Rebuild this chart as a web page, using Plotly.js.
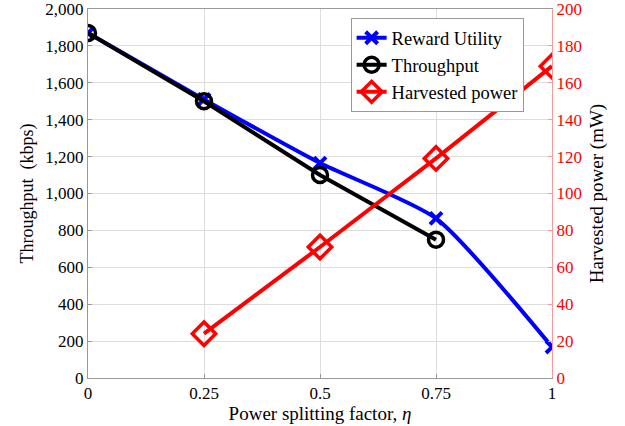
<!DOCTYPE html>
<html>
<head>
<meta charset="utf-8">
<script src="https://cdn.plot.ly/plotly-3.0.1.min.js"></script>
<style>html,body{margin:0;padding:0;background:#fff}#chart{width:625px;height:426px}</style>
</head>
<body>
<div id="chart"></div>
<script>
const eta = [0, 0.25, 0.5, 0.75, 1];
const rewardUtility = [1870, 1510, 1165, 865, 168];
const etaThroughput = [0, 0.25, 0.5, 0.75];
const throughput = [1870, 1500, 1100, 750];
const etaHarvest = [0.25, 0.5, 0.75, 1];
const harvestedPower = [24, 71, 119, 169];
const xTicks = [0, 0.25, 0.5, 0.75, 1];
const xTickText = ['0', '0.25', '0.5', '0.75', '1'];

const font = 'Liberation Serif';

const traces = [
  {x: eta, y: rewardUtility, name: 'Reward Utility', mode: 'lines+markers',
   line: {color: '#0000ff', width: 4, shape: 'spline', smoothing: 0.6},
   marker: {symbol: 'x-thin-open', size: 12, color: '#0000ff', line: {color: '#0000ff', width: 4}}},
  {x: etaThroughput, y: throughput, name: 'Throughput', mode: 'lines+markers',
   line: {color: '#000000', width: 4},
   marker: {symbol: 'circle-open', size: 15, color: '#000000', line: {color: '#000000', width: 3.5}}},
  {x: etaHarvest, y: harvestedPower, name: 'Harvested power', mode: 'lines+markers', yaxis: 'y2',
   line: {color: '#ff0000', width: 4},
   marker: {symbol: 'diamond-open', size: 18, color: '#ff0000', line: {color: '#ff0000', width: 3.5}}}
];

const layout = {
  width: 625, height: 426,
  margin: {l: 88, r: 73, t: 9, b: 48},
  paper_bgcolor: '#fff', plot_bgcolor: '#fff',
  font: {family: font, size: 17, color: '#000'},
  showlegend: true,
  legend: {x: 0.566, y: 0.975, xanchor: 'left', yanchor: 'top', bgcolor: '#fff',
           bordercolor: '#999', borderwidth: 1, font: {family: font, size: 18.5},
           tracegroupgap: 0, itemwidth: 30},
  xaxis: {range: [0, 1], tickvals: xTicks, ticktext: xTickText, showgrid: true, gridcolor: '#ddd',
          zeroline: false, showline: true, linecolor: '#999', mirror: true, ticks: 'inside', ticklen: 4,
          tickcolor: '#999', ticklabeloverflow: 'allow',
          title: {text: 'Power splitting factor, <i>η</i>', font: {family: font, size: 19}, standoff: 2}},
  yaxis: {range: [0, 2000], dtick: 200, tickformat: ',', showgrid: true, gridcolor: '#ddd',
          zeroline: false, showline: true, linecolor: '#999', ticks: 'inside', ticklen: 4, tickcolor: '#999',
          ticklabeloverflow: 'allow', tickfont: {family: font, size: 17},
          title: {text: 'Throughput  (kbps)', font: {family: font, size: 18}, standoff: 7}},
  yaxis2: {range: [0, 200], dtick: 20, overlaying: 'y', side: 'right', showgrid: false, zeroline: false,
           showline: true, linecolor: '#ff9999', ticks: 'inside', ticklen: 4, tickcolor: '#ff9999',
           ticklabeloverflow: 'allow', tickfont: {family: font, size: 17, color: '#ff0000'},
           title: {text: 'Harvested power (mW)', font: {family: font, size: 19, color: '#000'}, standoff: 8}}
};

Plotly.newPlot('chart', traces, layout, {displayModeBar: false, staticPlot: true});
</script>
</body>
</html>
